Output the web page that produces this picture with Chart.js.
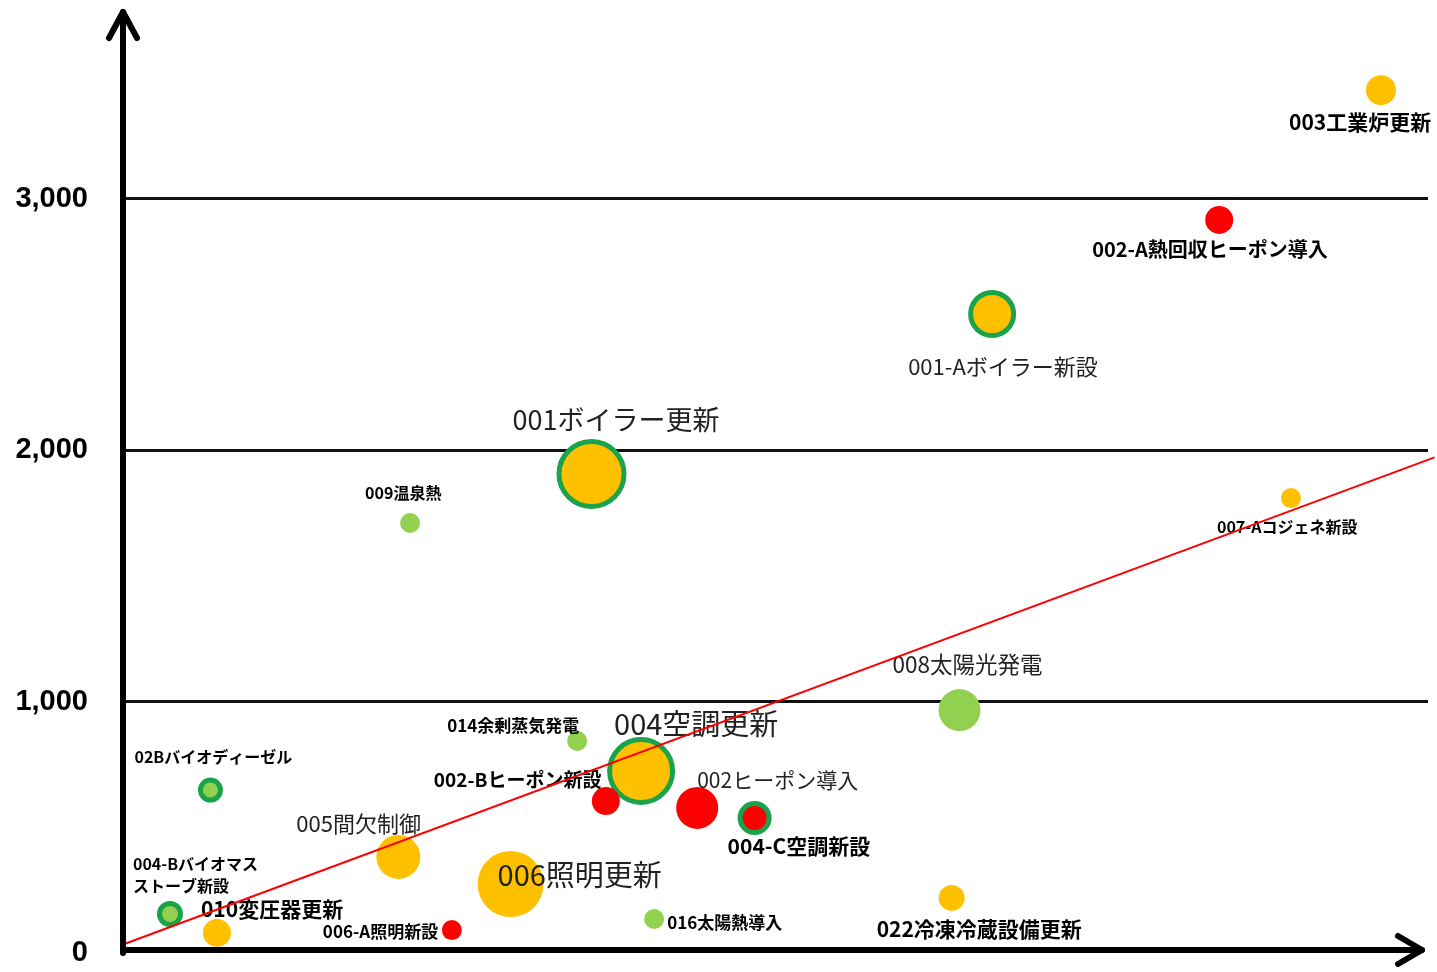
<!DOCTYPE html>
<html><head><meta charset="utf-8">
<script src="https://cdn.jsdelivr.net/npm/chart.js@4.4.1/dist/chart.umd.min.js"></script>
<style>html,body{margin:0;padding:0;background:#fff;overflow:hidden}canvas{display:block}</style>
</head><body>
<canvas id="c" width="1437" height="972"></canvas>
<script>
// ---- data ----
const projects = [
  '003工業炉更新', '002-A熱回収ヒーポン導入', '001-Aボイラー新設', '001ボイラー更新', '009温泉熱',
  '007-Aコジェネ新設', '008太陽光発電', '014余剰蒸気発電', '004空調更新', '002-Bヒーポン新設',
  '002ヒーポン導入', '004-C空調新設', '02Bバイオディーゼル', '005間欠制御', '006照明更新',
  '004-Bバイオマス\nストーブ新設', '010変圧器更新', '006-A照明新設', '016太陽熱導入', '022冷凍冷蔵設備更新'
];
const xValues = [96.4, 84.0, 66.6, 35.9, 22.0, 89.5, 64.1, 34.8, 39.7, 37.0,
                 44.0, 48.4, 6.7, 21.1, 29.7, 3.6, 7.2, 25.2, 40.7, 63.5];
const yValues = [3431, 2915, 2541, 1905, 1710, 1809, 966, 843, 724, 604,
                 577, 537, 648, 382, 274, 155, 80, 91, 135, 219];
const bubbleSizes = [15, 14, 24, 35, 10, 10, 21, 10, 34, 14,
                     21, 17, 12.5, 22, 33, 13, 14, 10, 10, 13];
const groups = ['orange','red','orange','orange','green','orange','green','green','orange','red',
                'red','red','green','orange','orange','green','orange','red','green','orange'];
const ringed = [false,false,true,true,false,false,false,false,true,false,
                false,true,true,false,false,true,false,false,false,false];
const yTickValues = [0, 1000, 2000, 3000];
const yTickLabels = ['0', '1,000', '2,000', '3,000'];
const trendX = [0, 100.5];
const trendY = [34, 1971];

// ---- styles ----
const groupColors = {orange:'#FFC000', red:'#FF0000', green:'#92D050'};
const ringColor = '#1AA34A';
const ringWidth = 5;
// label placement relative to bubble centre: [dx, dy, fontSize, bold]
const labelLayout = [
  [-92, 32, 21, true], [-127, 29, 20, true], [-84, 53, 22, false], [-79, -54, 27, false], [-45, -30, 16, true],
  [-74, 29, 16, true], [-67, -46, 22.5, false], [-130, -15, 17, true], [-27, -47, 29, false], [-172, -21, 19, true],
  [0, -28, 21, false], [-27, 28, 21, true], [-76, -33, 16, true], [-102, -33, 22, false], [-13, -9, 29, false],
  [-37, -50, 16, true], [-16, -24, 21, true], [-129, 1, 17, true], [13, 3, 17, true], [-75, 31, 21, true]
];

const bubbleData = xValues.map((x, i) => ({
  x: x, y: yValues[i], r: ringed[i] ? bubbleSizes[i] - ringWidth / 2 : bubbleSizes[i]
}));

const labelPlugin = {
  id: 'pointLabels',
  afterDatasetDraw(chart, args) {
    if (args.index !== 1) return;
    const ctx = chart.ctx;
    const meta = chart.getDatasetMeta(1);
    meta.data.forEach((el, i) => {
      const [dx, dy, size, bold] = labelLayout[i];
      ctx.save();
      ctx.font = (bold ? 'bold ' : '') + size + 'px "Noto Sans CJK JP"';
      ctx.fillStyle = bold ? '#000' : '#222';
      ctx.textAlign = 'left';
      ctx.textBaseline = 'middle';
      projects[i].split('\n').forEach((t, k) => {
        ctx.fillText(t, el.x + dx, el.y + dy + k * (size + 6));
      });
      ctx.restore();
    });
  }
};

const axesPlugin = {
  id: 'arrowAxes',
  afterDraw(chart) {
    const {ctx, scales: {x, y}, chartArea} = chart;
    const x0 = x.getPixelForValue(0);
    const y0 = y.getPixelForValue(0) - 3;
    const top = chartArea.top - 3;
    const right = x.getPixelForValue(x.max) - 6;
    ctx.save();
    ctx.strokeStyle = '#000';
    ctx.lineWidth = 6;
    ctx.lineCap = 'round';
    ctx.lineJoin = 'round';
    ctx.beginPath(); ctx.moveTo(x0, y0 + 3); ctx.lineTo(x0, top); ctx.stroke();
    ctx.beginPath(); ctx.moveTo(x0 - 14, top + 26); ctx.lineTo(x0, top); ctx.lineTo(x0 + 14, top + 26); ctx.stroke();
    ctx.beginPath(); ctx.moveTo(x0, y0); ctx.lineTo(right, y0); ctx.stroke();
    ctx.beginPath(); ctx.moveTo(right - 24, y0 - 14); ctx.lineTo(right, y0); ctx.lineTo(right - 24, y0 + 14); ctx.stroke();
    ctx.restore();
  }
};

new Chart(document.getElementById('c'), {
  type: 'bubble',
  data: {
    datasets: [
      {
        type: 'line',
        data: trendX.map((v, i) => ({x: v, y: trendY[i]})),
        borderColor: '#FF0000', borderWidth: 2, pointRadius: 0, fill: false, tension: 0, clip: false
      },
      {
        type: 'bubble',
        data: bubbleData,
        backgroundColor: groups.map(g => groupColors[g]),
        borderColor: ringed.map((r, i) => r ? ringColor : groupColors[groups[i]]),
        borderWidth: ringed.map(r => r ? ringWidth : 0),
        clip: false
      }
    ]
  },
  options: {
    responsive: false,
    animation: false,
    events: [],
    layout: {autoPadding: false, padding: {top: 15, right: 9, bottom: 19, left: 0}},
    plugins: {legend: {display: false}, tooltip: {enabled: false}, title: {display: false}},
    scales: {
      x: {type: 'linear', display: false, min: 0, max: 100},
      y: {
        type: 'linear', min: 0, max: 3730,
        afterBuildTicks: s => { s.ticks = yTickValues.map(v => ({value: v})); },
        afterFit: s => { s.width = 123; s.paddingTop = 0; s.paddingBottom = 0; },
        border: {display: false},
        grid: {
          drawTicks: false, lineWidth: 3,
          color: c => (c.tick && c.tick.value === 0) ? 'rgba(0,0,0,0)' : '#111'
        },
        ticks: {
          padding: 35, color: '#000',
          font: {family: '"Liberation Sans"', size: 29, weight: 'bold', lineHeight: 1},
          callback: (v) => yTickLabels[yTickValues.indexOf(v)]
        }
      }
    }
  },
  plugins: [labelPlugin, axesPlugin]
});
</script>
</body></html>
